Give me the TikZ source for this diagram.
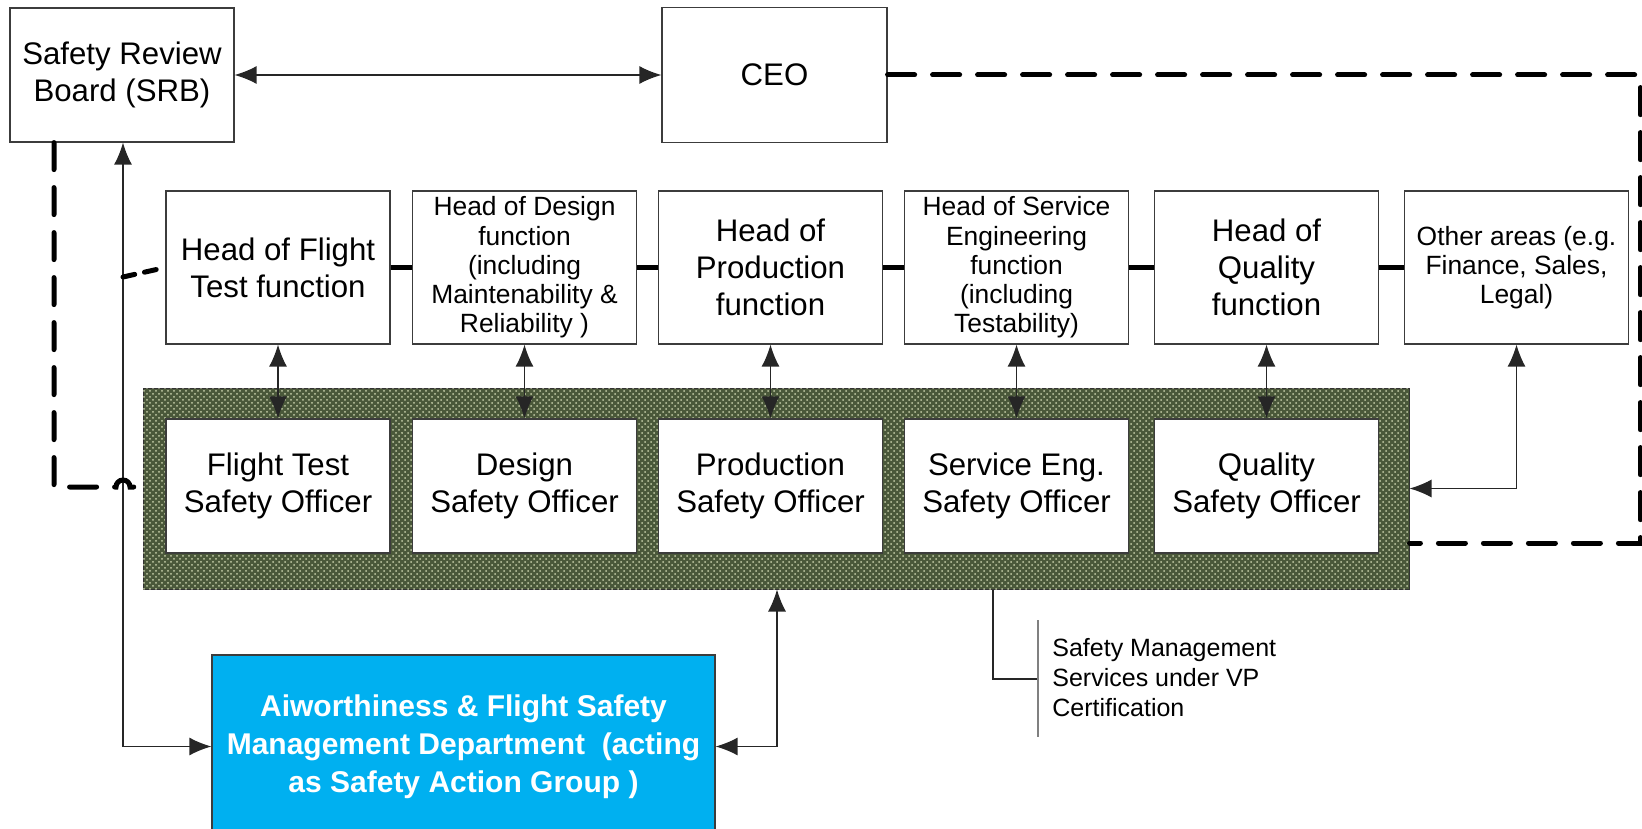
\documentclass[tikz,border=0pt]{standalone}
\usepackage{fontspec}
\setmainfont{Liberation Sans}
\usetikzlibrary{arrows.meta,patterns,calc}
\definecolor{bandgreen}{RGB}{74,88,58}
\definecolor{banddot}{RGB}{196,204,168}
\definecolor{deptblue}{RGB}{0,176,240}
\definecolor{boxline}{RGB}{60,60,60}
\newcommand{\bigfont}{\fontsize{15.6pt}{18.5pt}\selectfont}
\newcommand{\smallfont}{\fontsize{13.2pt}{14.6pt}\selectfont}

\begin{document}
\begin{tikzpicture}[x=0.5pt,y=-0.5pt,
	box/.style={draw=boxline,line width=0.6pt,fill=white,align=center,minimum width=112pt,inner sep=1pt},
	headbox/.style={box,minimum height=76.5pt},
	officer/.style={box,minimum height=67pt,font=\bigfont},
	link/.style={line width=0.65pt,black!85},
	biarrow/.style={link,{Latex[length=11pt,width=9pt]}-{Latex[length=11pt,width=9pt]}},
	bigdash/.style={line width=2.5pt,line cap=round,dash pattern=on 13.5pt off 9pt},
	headlink/.style={line width=2.2pt}]
	\useasboundingbox (0,0) rectangle (1642,829);

	\node[box,minimum height=67pt,font=\bigfont] (srb) at (122,75) {Safety Review\\Board (SRB)};
	\node[box,minimum width=112.5pt,minimum height=67.5pt,font=\bigfont] (ceo) at (774.5,75) {CEO};

	\node[headbox,font=\bigfont] (hft) at (278,267.5) {Head of Flight\\Test function};
	\node[headbox,font=\smallfont] (hdes) at (524.5,267.5) {Head of Design\\function\\(including\\Maintenability \&\\Reliability )};
	\node[headbox,font=\bigfont] (hprod) at (770.5,267.5) {Head of\\Production\\function};
	\node[headbox,font=\smallfont] (hserv) at (1016.5,267.5) {Head of Service\\Engineering\\function\\(including\\Testability)};
	\node[headbox,font=\bigfont] (hqual) at (1266.5,267.5) {Head of\\Quality\\function};
	\node[headbox,font=\smallfont] (other) at (1516.5,267.5) {Other areas (e.g.\\Finance, Sales,\\Legal)};

	\node[draw=black!80,line width=0.5pt,fill=bandgreen,postaction={pattern=crosshatch dots,pattern color=banddot},
		minimum width=633pt,minimum height=100.5pt,inner sep=0pt] (band) at (776,488.5) {};

	\node[officer] (oft) at (278,486) {Flight Test\\Safety Officer};
	\node[officer] (odes) at (524.5,486) {Design\\Safety Officer};
	\node[officer] (oprod) at (770.5,486) {Production\\Safety Officer};
	\node[officer] (oserv) at (1016.5,486) {Service Eng.\\Safety Officer};
	\node[officer] (oqual) at (1266.5,486) {Quality\\Safety Officer};

	\node[draw=boxline,line width=0.6pt,fill=deptblue,text=white,align=center,
		font=\bfseries\fontsize{15pt}{19pt}\selectfont,minimum width=251.5pt,minimum height=91.5pt] (dept) at (463.5,746.5)
		{Aiworthiness \& Flight Safety\\Management Department\ \ (acting\\as Safety Action Group\ )};

	\node[anchor=west,align=left,inner sep=0pt,font=\fontsize{12.5pt}{15pt}\selectfont] (smsnote) at (1052,678)
		{Safety Management\\Services under VP\\Certification};

	\coordinate (sline) at (123,277);
	\coordinate (dline) at (777,746.5);
	\coordinate (cfoot) at (993,679);
	\coordinate (barmid) at (1038,679);
	\coordinate (lc) at (54,487);
	\coordinate (rt) at (1640,75);
	\coordinate (rb) at (1640,543);

	\draw[biarrow] (srb.east) -- (ceo.west);
	\draw[biarrow] (sline |- srb.south) |- (dept.west);
	\draw[biarrow] (dline |- band.south) |- (dept.east);
	\draw[biarrow] (other.south) |- (band.east);
	\draw[biarrow] (hft.south) -- (oft.north);
	\draw[biarrow] (hdes.south) -- (odes.north);
	\draw[biarrow] (hprod.south) -- (oprod.north);
	\draw[biarrow] (hserv.south) -- (oserv.north);
	\draw[biarrow] (hqual.south) -- (oqual.north);

	\draw[link] (cfoot |- band.south) |- (barmid);
	\draw[gray,line width=0.6pt] (1038,620) -- (1038,737);

	\draw[bigdash] (ceo.east) -- (rt) -- (rb) -- (rb -| band.east);
	\draw[bigdash] (lc |- srb.south) -- (lc) -- ($(lc)+(62,0)$) arc[start angle=180,end angle=0,radius=3.5pt] -- (lc -| band.west);
	\draw[bigdash,dash pattern=on 6pt off 5pt] (sline) -- (hft.west);

	\draw[headlink] (hft.east) -- (hdes.west);
	\draw[headlink] (hdes.east) -- (hprod.west);
	\draw[headlink] (hprod.east) -- (hserv.west);
	\draw[headlink] (hserv.east) -- (hqual.west);
	\draw[headlink] (hqual.east) -- (other.west);
\end{tikzpicture}
\end{document}
